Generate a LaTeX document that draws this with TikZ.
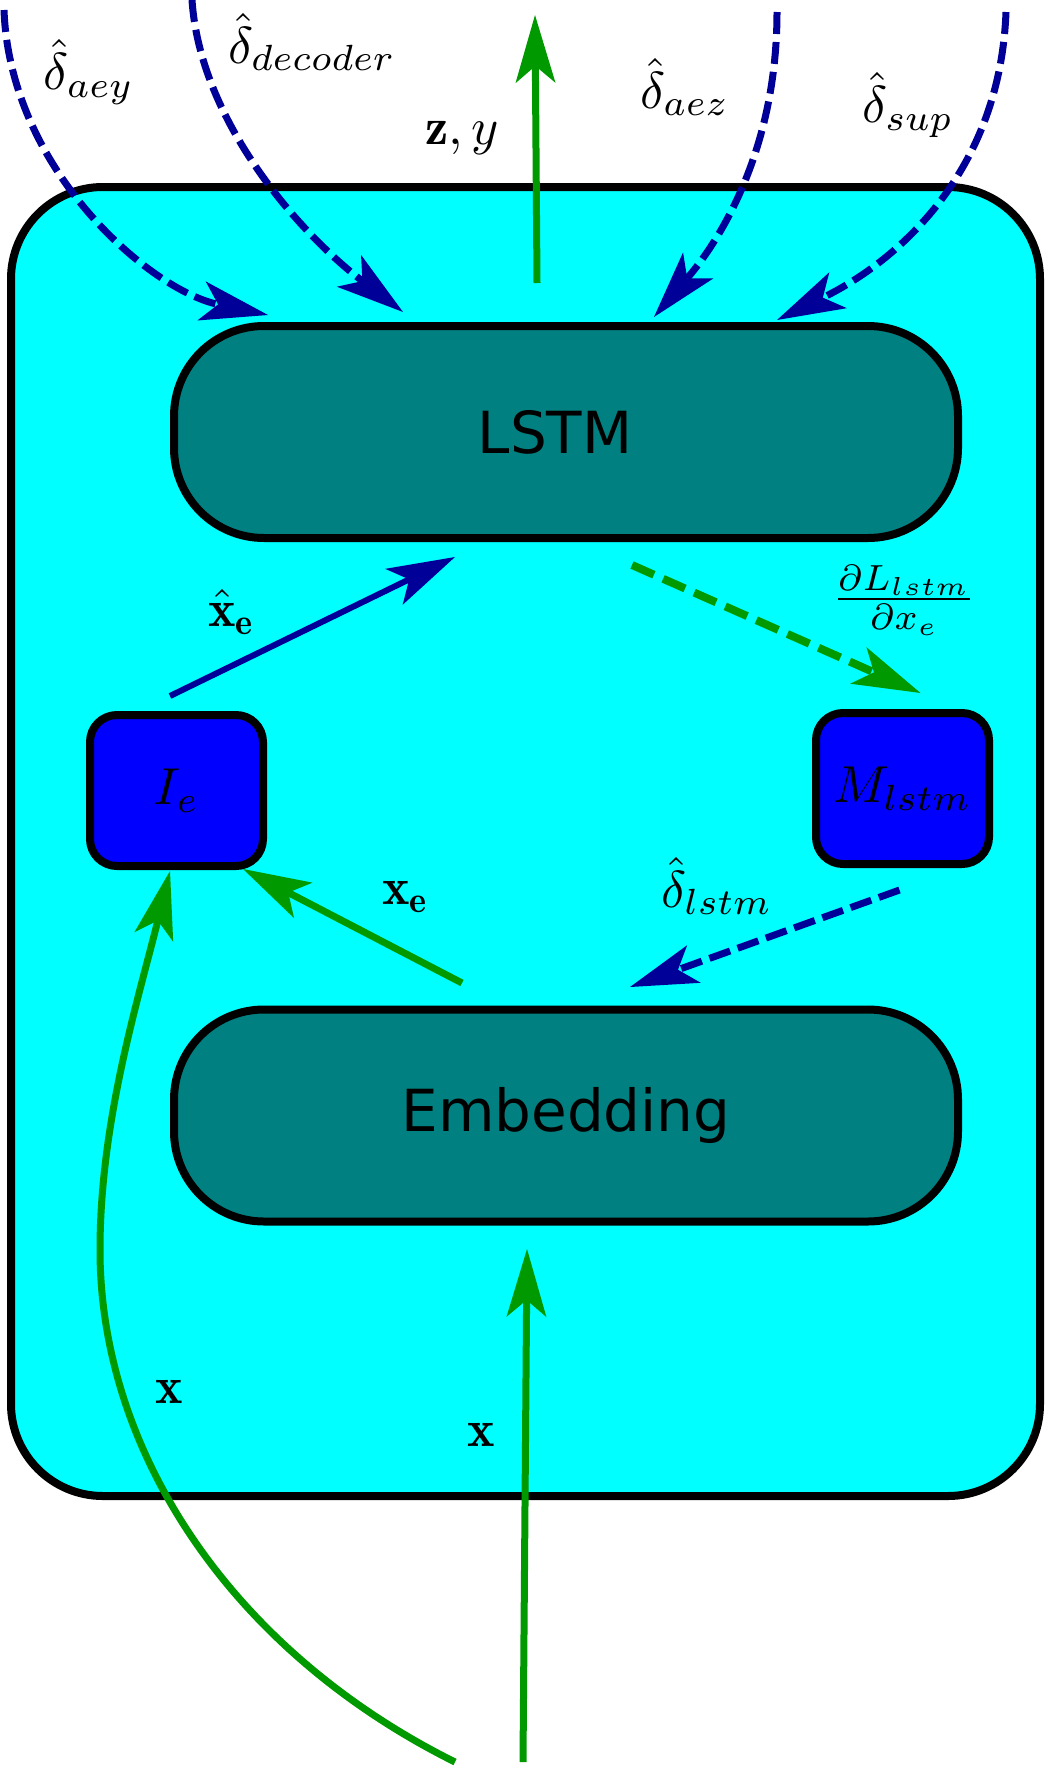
\documentclass[tikz,border=0pt]{standalone}
\usepackage{amsmath}
\usepackage{fontspec}
\newfontfamily\blockfont{DejaVu Sans}
\usepackage{tikz}
\usetikzlibrary{positioning, arrows.meta}

\definecolor{moduleCyan}{RGB}{0,255,255}
\definecolor{layerTeal}{RGB}{0,128,128}
\definecolor{memBlue}{RGB}{0,0,255}
\definecolor{gradNavy}{RGB}{0,0,153}
\definecolor{flowGreen}{RGB}{0,153,0}

\newcommand{\lbltext}[1]{\scalebox{5.2}{#1}}

\begin{document}
\begin{tikzpicture}[
            x=1pt, y=-1pt,
            layer/.style={rectangle, draw, line width=8pt, fill=layerTeal, rounded corners=90pt, minimum width=784pt, minimum height=212pt, font=\blockfont\fontsize{58}{70}\selectfont},
            memory/.style={rectangle, draw, line width=8pt, fill=memBlue, rounded corners=27pt, minimum width=173pt, minimum height=151pt},
            lbl/.style={inner sep=0pt},
            headarrow/.style={-{Stealth[length=68pt, width=40pt, inset=17pt, line width=0pt]}},
            fwd/.style={headarrow, flowGreen, line width=7pt},
            bwd/.style={headarrow, gradNavy, line width=7pt, dash pattern=on 22pt off 8pt}
        ]
        \useasboundingbox (0,0) rectangle (1048,1767);

        % The encoder module and its parts
        \node[draw, line width=8pt, fill=moduleCyan, rounded corners=92pt, minimum width=1029pt, minimum height=1309pt] (module) at (525.5,841.5) {};
        \node[layer] (lstm) at (566,432) {\hspace*{-22pt}LSTM};
        \node[layer] (emb) at (566,1115.5) {Embedding};
        \node[memory] (ie) at (176.5,790.5) {\lbltext{$I_e$}};
        \node[memory] (ml) at (902.5,788.5) {\lbltext{$M_{lstm}$}};

        % Free ends outside the module
        \coordinate (aeysrc) at (4,10);
        \coordinate (decsrc) at (192,0);
        \coordinate (zyout) at (535,15);
        \coordinate (aezsrc) at (777,12);
        \coordinate (supsrc) at (1006,12);
        \coordinate (xsrcleft) at (455,1762);
        \coordinate (xsrcright) at (523,1762);

        % Gradients coming back into the LSTM
        \draw[bwd] (aeysrc) .. controls (10,170) and (150,290) .. ([xshift=-298pt, yshift=7pt]lstm.north);
        \draw[bwd] (decsrc) .. controls (200,120) and (298,232) .. ([xshift=-163pt, yshift=10pt]lstm.north);
        \draw[bwd] (aezsrc) .. controls (777,150) and (720,240) .. ([xshift=88pt, yshift=5pt]lstm.north);
        \draw[bwd] (supsrc) .. controls (1000,170) and (900,260) .. ([xshift=211pt, yshift=2pt]lstm.north);

        % Forward flow
        \draw[fwd] ([xshift=-29pt, yshift=39pt]lstm.north) -- (zyout);
        \draw[fwd] (xsrcright) -- ([xshift=-39pt, yshift=-23.5pt]emb.south);
        \draw[fwd] (xsrcleft) .. controls (230,1650) and (100,1450) .. (100,1250) .. controls (100,1120) and (139,997) .. ([xshift=-6.5pt, yshift=-1pt]ie.south);
        \draw[fwd] ([xshift=-104pt, yshift=22.5pt]emb.north) -- ([xshift=66.5pt, yshift=1pt]ie.south);
        \draw[headarrow, gradNavy, line width=6pt] ([xshift=-6.5pt, yshift=15pt]ie.north) -- ([xshift=-111pt, yshift=-15pt]lstm.south);
        \draw[headarrow, flowGreen, line width=8pt, dash pattern=on 24pt off 10pt] ([xshift=66pt, yshift=-23pt]lstm.south) -- ([xshift=18pt, yshift=16pt]ml.north);
        \draw[bwd] ([xshift=-3pt, yshift=-22pt]ml.south) -- ([xshift=64pt, yshift=18.5pt]emb.north);

        % Labels
        \node[lbl] (aeylbl) at (89,72) {\lbltext{$\hat{\delta}_{aey}$}};
        \node[lbl] (declbl) at (312,42) {\lbltext{$\hat{\delta}_{decoder}$}};
        \node[lbl] (zylbl) at (462,138) {\lbltext{$\mathbf{z}, y$}};
        \node[lbl] (aezlbl) at (685,87) {\lbltext{$\hat{\delta}_{aez}$}};
        \node[lbl] (suplbl) at (908,105) {\lbltext{$\hat{\delta}_{sup}$}};
        \node[lbl] (xhatlbl) at (232,612) {\lbltext{$\hat{\mathbf{x}}_{\mathbf{e}}$}};
        \node[lbl] (gradlbl) at (904,600) {\lbltext{$\frac{\partial L_{lstm}}{\partial x_e}$}};
        \node[lbl] (dlstmlbl) at (717,886) {\lbltext{$\hat{\delta}_{lstm}$}};
        \node[lbl] (xelbl) at (406,897) {\lbltext{$\mathbf{x_e}$}};
        \node[lbl] (xleftlbl) at (169,1392) {\lbltext{$\mathbf{x}$}};
        \node[lbl] (xrightlbl) at (481,1435) {\lbltext{$\mathbf{x}$}};
    \end{tikzpicture}
\end{document}
